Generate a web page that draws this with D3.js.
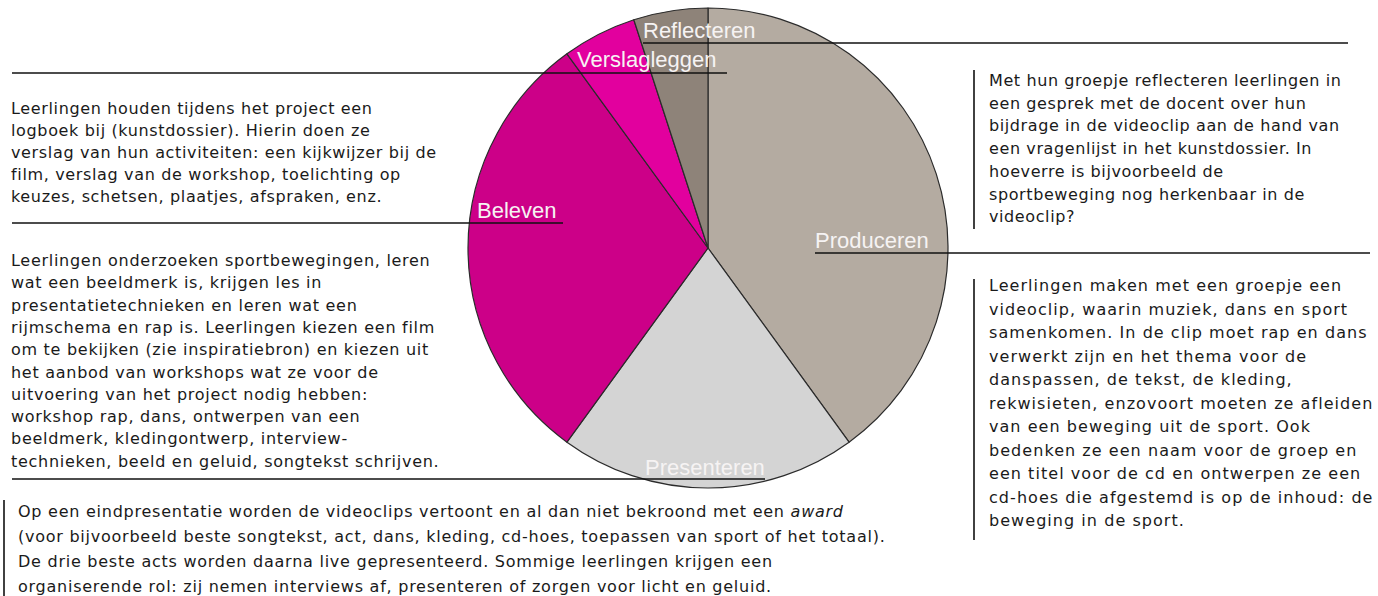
<!DOCTYPE html>
<html><head><meta charset="utf-8">
<script src="https://cdn.jsdelivr.net/npm/d3@7"></script>
<style>html,body{margin:0;padding:0;background:#fff;overflow:hidden}svg{display:block}</style>
</head><body>
<svg id="c" width="1378" height="596"></svg>
<script>
// ---- data ----
const categories = ["Produceren", "Presenteren", "Beleven", "Verslagleggen", "Reflecteren"];
const values = [40, 20, 30, 5, 5];
const sliceColors = ["#b4aba1", "#d4d4d4", "#cc0088", "#e2009e", "#8e8379"];

const textVerslag = [
  "Leerlingen houden tijdens het project een",
  "logboek bij (kunstdossier). Hierin doen ze",
  "verslag van hun activiteiten: een kijkwijzer bij de",
  "film, verslag van de workshop, toelichting op",
  "keuzes, schetsen, plaatjes, afspraken, enz."
];
const textBeleven = [
  "Leerlingen onderzoeken sportbewegingen, leren",
  "wat een beeldmerk is, krijgen les in",
  "presentatietechnieken en leren wat een",
  "rijmschema en rap is. Leerlingen kiezen een film",
  "om te bekijken (zie inspiratiebron) en kiezen uit",
  "het aanbod van workshops wat ze voor de",
  "uitvoering van het project nodig hebben:",
  "workshop rap, dans, ontwerpen van een",
  "beeldmerk, kledingontwerp, interview-",
  "technieken, beeld en geluid, songtekst schrijven."
];
const textReflecteren = [
  "Met hun groepje reflecteren leerlingen in",
  "een gesprek met de docent over hun",
  "bijdrage in de videoclip aan de hand van",
  "een vragenlijst in het kunstdossier. In",
  "hoeverre is bijvoorbeeld de",
  "sportbeweging nog herkenbaar in de",
  "videoclip?"
];
const textProduceren = [
  "Leerlingen maken met een groepje een",
  "videoclip, waarin muziek, dans en sport",
  "samenkomen. In de clip moet rap en dans",
  "verwerkt zijn en het thema voor de",
  "danspassen, de tekst, de kleding,",
  "rekwisieten, enzovoort moeten ze afleiden",
  "van een beweging uit de sport. Ook",
  "bedenken ze een naam voor de groep en",
  "een titel voor de cd en ontwerpen ze een",
  "cd-hoes die afgestemd is op de inhoud: de",
  "beweging in de sport."
];
const textPresenteren = [
  [["Op een eindpresentatie worden de videoclips vertoont en al dan niet bekroond met een ", false], ["award", true]],
  [["(voor bijvoorbeeld beste songtekst, act, dans, kleding, cd-hoes, toepassen van sport of het totaal).", false]],
  [["De drie beste acts worden daarna live gepresenteerd. Sommige leerlingen krijgen een", false]],
  [["organiserende rol: zij nemen interviews af, presenteren of zorgen voor licht en geluid.", false]]
];

// ---- layout ----
const svg = d3.select("#c");
const cx = 708, cy = 248, R = 240;

const pie = d3.pie().sort(null).value(d => d.value);
const arcs = pie(categories.map((c, i) => ({ name: c, value: values[i], color: sliceColors[i] })));
const arc = d3.arc().innerRadius(0).outerRadius(R);

const pieG = svg.append("g").attr("transform", `translate(${cx},${cy})`);
pieG.selectAll("path").data(arcs).join("path")
  .attr("d", arc)
  .attr("fill", d => d.data.color)
  .attr("stroke", "#2b2b2b")
  .attr("stroke-width", 1.2)
  .attr("stroke-linejoin", "round");

// label placement (style/layout only)
const labelLayout = {
  "Reflecteren":   { x: 643, y: 38,  line: [643, 1348, 43] },
  "Verslagleggen": { x: 577, y: 67,  line: [12, 727, 73] },
  "Beleven":       { x: 477, y: 218, line: [12, 563, 223] },
  "Produceren":    { x: 815, y: 248, line: [815, 1370, 253] },
  "Presenteren":   { x: 645, y: 475, line: [12, 765, 479] }
};

const lineG = svg.append("g");
const labG = svg.append("g");
arcs.forEach(d => {
  const L = labelLayout[d.data.name];
  lineG.append("line")
    .attr("x1", L.line[0]).attr("x2", L.line[1])
    .attr("y1", L.line[2]).attr("y2", L.line[2])
    .attr("stroke", "#111").attr("stroke-width", 1.6);
  labG.append("text")
    .attr("x", L.x).attr("y", L.y)
    .attr("font-family", "'Liberation Sans', Arial, sans-serif")
    .attr("font-size", 22)
    .attr("fill", "#f6f3f3")
    .text(d.data.name);
});

const bodyFont = "'DejaVu Sans', Verdana, sans-serif";
function block(lines, x, y0, dy, size, ls) {
  const t = svg.append("text")
    .attr("font-family", bodyFont)
    .attr("font-size", size)
    .attr("letter-spacing", ls)
    .attr("fill", "#1a1a1a");
  lines.forEach((ln, i) => {
    const row = t.append("tspan").attr("x", x).attr("y", y0 + dy * i);
    if (Array.isArray(ln)) {
      ln.forEach(([s, it]) => {
        const sp = row.append("tspan").text(s);
        if (it) sp.attr("font-style", "italic");
      });
    } else row.text(ln);
  });
}
function bar(x, y1, y2) {
  svg.append("line").attr("x1", x).attr("x2", x).attr("y1", y1).attr("y2", y2)
    .attr("stroke", "#111").attr("stroke-width", 1.6);
}

block(textVerslag, 11, 114, 22, 16, 0.65);
block(textBeleven, 11, 266, 22.3, 16, 0.72);
bar(974, 70, 229);
block(textReflecteren, 989, 86, 22.7, 16, 0.6);
bar(974, 279, 540);
block(textProduceren, 989, 291, 23.5, 16, 1.05);
bar(4, 500, 596);
block(textPresenteren, 18, 517, 25, 16, 0.75);
</script>
</body></html>
